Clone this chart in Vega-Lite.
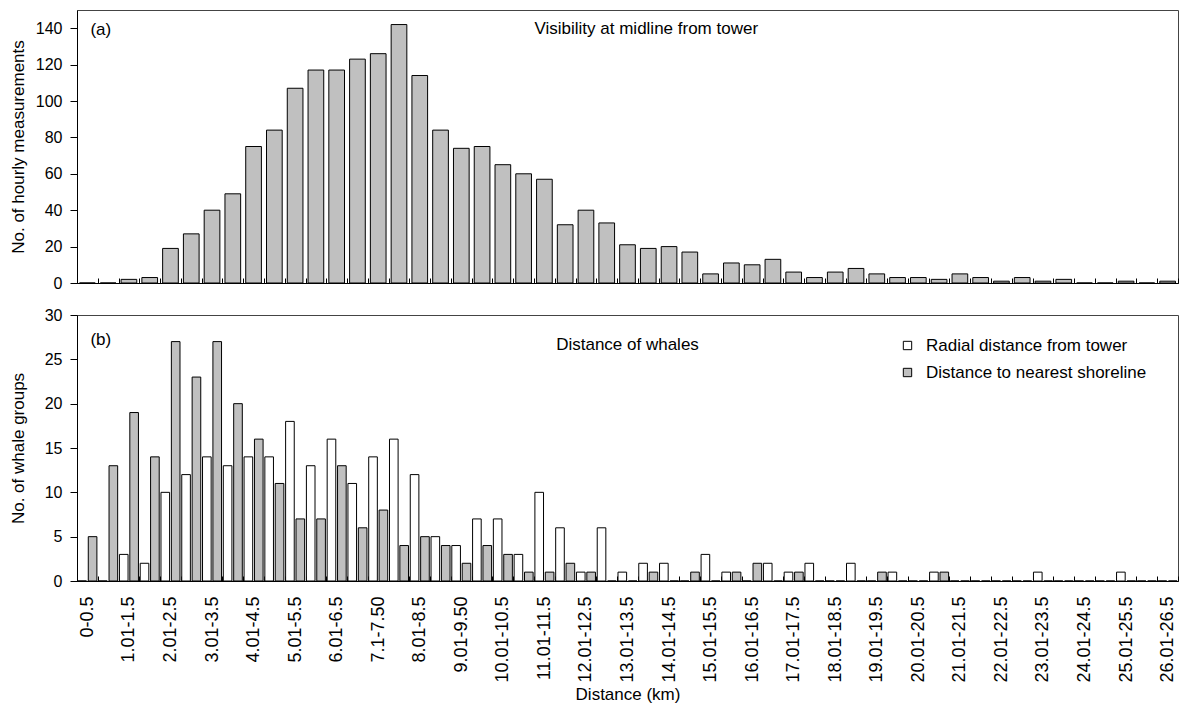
{
  "$schema": "https://vega.github.io/schema/vega-lite/v6.json",
  "padding": {"left": 8, "top": 9, "right": 3, "bottom": 0},
  "background": "white",
  "bounds": "flush",
  "spacing": 32,
  "config": {
    "font": "Liberation Sans",
    "view": {"stroke": "#444444", "strokeWidth": 1},
    "axis": {
      "labelFont": "Liberation Sans", "titleFont": "Liberation Sans",
      "labelColor": "black", "titleColor": "black",
      "domainColor": "black", "tickColor": "black",
      "grid": false, "titleFontWeight": "normal",
      "labelFontSize": 16, "titleFontSize": 17, "labelOverlap": false
    },
    "text": {"font": "Liberation Sans", "fontSize": 17, "color": "black"}
  },
  "datasets": {
    "d": [
      {"cat": "0-0.5", "vis": 0, "radial": 0, "shore": 5},
      {"cat": "0.51-1", "vis": 0, "radial": 0, "shore": 13},
      {"cat": "1.01-1.5", "vis": 2, "radial": 3, "shore": 19},
      {"cat": "1.51-2", "vis": 3, "radial": 2, "shore": 14},
      {"cat": "2.01-2.5", "vis": 19, "radial": 10, "shore": 27},
      {"cat": "2.51-3", "vis": 27, "radial": 12, "shore": 23},
      {"cat": "3.01-3.5", "vis": 40, "radial": 14, "shore": 27},
      {"cat": "3.51-4", "vis": 49, "radial": 13, "shore": 20},
      {"cat": "4.01-4.5", "vis": 75, "radial": 14, "shore": 16},
      {"cat": "4.51-5", "vis": 84, "radial": 14, "shore": 11},
      {"cat": "5.01-5.5", "vis": 107, "radial": 18, "shore": 7},
      {"cat": "5.51-6", "vis": 117, "radial": 13, "shore": 7},
      {"cat": "6.01-6.5", "vis": 117, "radial": 16, "shore": 13},
      {"cat": "6.51-7", "vis": 123, "radial": 11, "shore": 6},
      {"cat": "7.1-7.50", "vis": 126, "radial": 14, "shore": 8},
      {"cat": "7.51-8", "vis": 142, "radial": 16, "shore": 4},
      {"cat": "8.01-8.5", "vis": 114, "radial": 12, "shore": 5},
      {"cat": "8.51-9", "vis": 84, "radial": 5, "shore": 4},
      {"cat": "9.01-9.50", "vis": 74, "radial": 4, "shore": 2},
      {"cat": "9.51-10", "vis": 75, "radial": 7, "shore": 4},
      {"cat": "10.01-10.5", "vis": 65, "radial": 7, "shore": 3},
      {"cat": "10.51-11", "vis": 60, "radial": 3, "shore": 1},
      {"cat": "11.01-11.5", "vis": 57, "radial": 10, "shore": 1},
      {"cat": "11.51-12", "vis": 32, "radial": 6, "shore": 2},
      {"cat": "12.01-12.5", "vis": 40, "radial": 1, "shore": 1},
      {"cat": "12.51-13", "vis": 33, "radial": 6, "shore": 0},
      {"cat": "13.01-13.5", "vis": 21, "radial": 1, "shore": 0},
      {"cat": "13.51-14", "vis": 19, "radial": 2, "shore": 1},
      {"cat": "14.01-14.5", "vis": 20, "radial": 2, "shore": 0},
      {"cat": "14.51-15", "vis": 17, "radial": 0, "shore": 1},
      {"cat": "15.01-15.5", "vis": 5, "radial": 3, "shore": 0},
      {"cat": "15.51-16", "vis": 11, "radial": 1, "shore": 1},
      {"cat": "16.01-16.5", "vis": 10, "radial": 0, "shore": 2},
      {"cat": "16.51-17", "vis": 13, "radial": 2, "shore": 0},
      {"cat": "17.01-17.5", "vis": 6, "radial": 1, "shore": 1},
      {"cat": "17.51-18", "vis": 3, "radial": 2, "shore": 0},
      {"cat": "18.01-18.5", "vis": 6, "radial": 0, "shore": 0},
      {"cat": "18.51-19", "vis": 8, "radial": 2, "shore": 0},
      {"cat": "19.01-19.5", "vis": 5, "radial": 0, "shore": 1},
      {"cat": "19.51-20", "vis": 3, "radial": 1, "shore": 0},
      {"cat": "20.01-20.5", "vis": 3, "radial": 0, "shore": 0},
      {"cat": "20.51-21", "vis": 2, "radial": 1, "shore": 1},
      {"cat": "21.01-21.5", "vis": 5, "radial": 0, "shore": 0},
      {"cat": "21.51-22", "vis": 3, "radial": 0, "shore": 0},
      {"cat": "22.01-22.5", "vis": 1, "radial": 0, "shore": 0},
      {"cat": "22.51-23", "vis": 3, "radial": 0, "shore": 0},
      {"cat": "23.01-23.5", "vis": 1, "radial": 1, "shore": 0},
      {"cat": "23.51-24", "vis": 2, "radial": 0, "shore": 0},
      {"cat": "24.01-24.5", "vis": 0, "radial": 0, "shore": 0},
      {"cat": "24.51-25", "vis": 0, "radial": 0, "shore": 0},
      {"cat": "25.01-25.5", "vis": 1, "radial": 1, "shore": 0},
      {"cat": "25.51-26", "vis": 0, "radial": 0, "shore": 0},
      {"cat": "26.01-26.5", "vis": 1, "radial": 0, "shore": 0}
    ]
  },
  "vconcat": [
    {
      "width": 1101,
      "height": 273,
      "layer": [
        {
          "data": {"name": "d"},
          "mark": {"type": "bar", "fill": "#C0C0C0", "stroke": "black", "strokeWidth": 1, "width": {"band": 0.755}},
          "encoding": {
            "x": {
              "field": "cat", "type": "nominal",
              "scale": {"domain": ["0-0.5","0.51-1","1.01-1.5","1.51-2","2.01-2.5","2.51-3","3.01-3.5","3.51-4","4.01-4.5","4.51-5","5.01-5.5","5.51-6","6.01-6.5","6.51-7","7.1-7.50","7.51-8","8.01-8.5","8.51-9","9.01-9.50","9.51-10","10.01-10.5","10.51-11","11.01-11.5","11.51-12","12.01-12.5","12.51-13","13.01-13.5","13.51-14","14.01-14.5","14.51-15","15.01-15.5","15.51-16","16.01-16.5","16.51-17","17.01-17.5","17.51-18","18.01-18.5","18.51-19","19.01-19.5","19.51-20","20.01-20.5","20.51-21","21.01-21.5","21.51-22","22.01-22.5","22.51-23","23.01-23.5","23.51-24","24.01-24.5","24.51-25","25.01-25.5","25.51-26","26.01-26.5"], "paddingInner": 0, "paddingOuter": 0},
              "axis": {"labels": false, "title": null, "tickSize": -5, "tickBand": "extent"}
            },
            "y": {
              "field": "vis", "type": "quantitative",
              "scale": {"domain": [0, 150], "nice": false},
              "axis": {"values": [0, 20, 40, 60, 80, 100, 120, 140], "labelOverlap": false, "title": "No. of hourly measurements", "tickSize": 7, "labelPadding": 8, "minExtent": 43, "maxExtent": 43, "titlePadding": 7}
            }
          }
        },
        {
          "data": {"values": [{}]},
          "mark": {"type": "text", "text": "(a)", "align": "left", "baseline": "alphabetic", "dx": 3},
          "encoding": {"x": {"datum": "0-0.5", "type": "nominal"}, "y": {"datum": 136.5, "type": "quantitative", "axis": {"values": [0, 20, 40, 60, 80, 100, 120, 140], "labelOverlap": false}}}
        },
        {
          "data": {"values": [{}]},
          "mark": {"type": "text", "text": "Visibility at midline from tower", "align": "center", "baseline": "alphabetic", "dx": -2},
          "encoding": {"x": {"datum": "13.51-14", "type": "nominal"}, "y": {"datum": 136.8, "type": "quantitative", "axis": {"values": [0, 20, 40, 60, 80, 100, 120, 140], "labelOverlap": false}}}
        }
      ]
    },
    {
      "width": 1101,
      "height": 266,
      "layer": [
        {
          "data": {"name": "d"},
          "transform": [{"fold": ["radial", "shore"], "as": ["series", "n"]}],
          "mark": {"type": "bar", "stroke": "black", "strokeWidth": 1},
          "encoding": {
            "x": {
              "field": "cat", "type": "nominal",
              "scale": {"domain": ["0-0.5","0.51-1","1.01-1.5","1.51-2","2.01-2.5","2.51-3","3.01-3.5","3.51-4","4.01-4.5","4.51-5","5.01-5.5","5.51-6","6.01-6.5","6.51-7","7.1-7.50","7.51-8","8.01-8.5","8.51-9","9.01-9.50","9.51-10","10.01-10.5","10.51-11","11.01-11.5","11.51-12","12.01-12.5","12.51-13","13.01-13.5","13.51-14","14.01-14.5","14.51-15","15.01-15.5","15.51-16","16.01-16.5","16.51-17","17.01-17.5","17.51-18","18.01-18.5","18.51-19","19.01-19.5","19.51-20","20.01-20.5","20.51-21","21.01-21.5","21.51-22","22.01-22.5","22.51-23","23.01-23.5","23.51-24","24.01-24.5","24.51-25","25.01-25.5","25.51-26","26.01-26.5"], "paddingInner": 0, "paddingOuter": 0},
              "axis": {
                "title": "Distance (km)", "titlePadding": 4,
                "labelAngle": -90, "labelFontSize": 18, "labelPadding": 20,
                "tickSize": -5, "tickBand": "extent",
                "labelExpr": "(slice(datum.label, -2) == '.5' || slice(datum.label, -3) == '.50') ? datum.label : ''"
              }
            },
            "xOffset": {"field": "series", "type": "nominal", "scale": {"domain": ["radial", "shore"], "paddingInner": 0.17, "paddingOuter": 0.085}},
            "y": {
              "field": "n", "type": "quantitative",
              "scale": {"domain": [0, 30], "nice": false},
              "axis": {"values": [0, 5, 10, 15, 20, 25, 30], "title": "No. of whale groups", "tickSize": 7, "labelPadding": 8, "minExtent": 43, "maxExtent": 43, "titlePadding": 7}
            },
            "fill": {
              "field": "series", "type": "nominal",
              "scale": {"domain": ["radial", "shore"], "range": ["#FFFFFF", "#C0C0C0"]},
              "legend": {
                "title": null, "orient": "none", "legendX": 822, "legendY": 327,
                "symbolType": "square", "symbolSize": 70,
                "symbolStrokeColor": "black", "symbolStrokeWidth": 1,
                "labelFont": "Liberation Sans", "labelFontSize": 17, "labelColor": "black",
                "labelOffset": 10, "rowPadding": 9, "padding": 0, "labelLimit": 0,
                "labelExpr": "datum.label == 'radial' ? 'Radial distance from tower' : 'Distance to nearest shoreline'"
              }
            }
          }
        },
        {
          "data": {"values": [{}]},
          "mark": {"type": "text", "text": "(b)", "align": "left", "baseline": "alphabetic", "dx": 3},
          "encoding": {"x": {"datum": "0-0.5", "type": "nominal"}, "y": {"datum": 26.6, "type": "quantitative"}}
        },
        {
          "data": {"values": [{}]},
          "mark": {"type": "text", "text": "Distance of whales", "align": "center", "baseline": "alphabetic"},
          "encoding": {"x": {"datum": "13.01-13.5", "type": "nominal"}, "y": {"datum": 26.1, "type": "quantitative"}}
        }
      ]
    }
  ]
}
